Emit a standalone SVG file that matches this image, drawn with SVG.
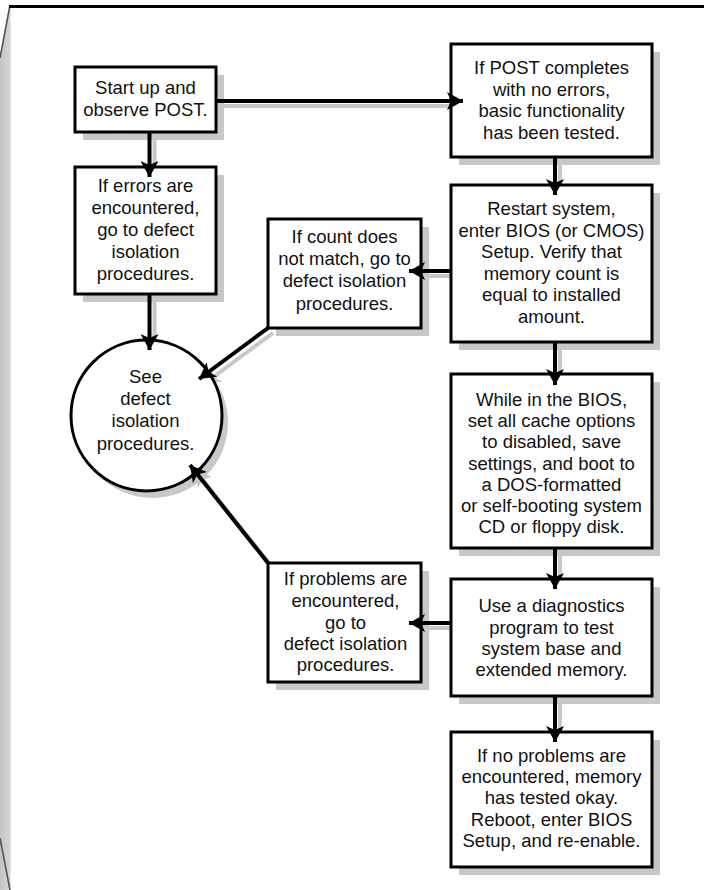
<svg xmlns="http://www.w3.org/2000/svg" width="704" height="890" viewBox="0 0 704 890">
<defs>
<linearGradient id="strip" x1="0" y1="0" x2="1" y2="0">
<stop offset="0" stop-color="#c4c4c4"/>
<stop offset="1" stop-color="#d6d6d6"/>
</linearGradient>
<marker id="arr" markerUnits="userSpaceOnUse" viewBox="0 0 16 18" markerWidth="16" markerHeight="18" refX="16" refY="9" orient="auto">
<path d="M16,9 L0,0 L4,9 L0,18 Z" fill="#000"/>
</marker>
<marker id="arrs" markerUnits="userSpaceOnUse" viewBox="0 0 16 18" markerWidth="16" markerHeight="18" refX="16" refY="9" orient="auto">
<path d="M16,9 L0,0 L4,9 L0,18 Z" fill="#c8c8c8"/>
</marker>
</defs>
<style>
.box{fill:#fff;stroke:#000;stroke-width:3}
.shd{fill:#c8c8c8;stroke:none}
.con{fill:none;stroke:#000;stroke-width:4;marker-end:url(#arr)}
.cons{fill:none;stroke:#c8c8c8;stroke-width:4;marker-end:url(#arrs)}
text{font-family:"Liberation Sans",Arial,Helvetica,sans-serif;font-size:18.5px;fill:#111;text-anchor:middle}
</style>
<rect width="704" height="890" fill="#fff"/>
<g id="frame">
<polygon points="0,58 10,5 10,890 0,890" fill="url(#strip)"/>
<line x1="10.5" y1="6" x2="10.5" y2="890" stroke="#e8e8e8" stroke-width="1"/>
<line x1="10" y1="5" x2="0" y2="58" stroke="#555" stroke-width="1.6"/>
<line x1="0" y1="838" x2="10" y2="890" stroke="#555" stroke-width="1.6"/>
<line x1="9" y1="6.5" x2="704" y2="6.5" stroke="#000" stroke-width="3"/>
</g>
<g id="connector-shadows" transform="translate(5,5)">
<path class="cons" d="M216,101 H463"/>
<path class="cons" d="M149.5,132 V177"/>
<path class="cons" d="M149.5,294 V350"/>
<path class="cons" d="M555,157 V195"/>
<path class="cons" d="M451,271 H409"/>
<path class="cons" d="M268,328 L199,379"/>
<path class="cons" d="M555,342 V385"/>
<path class="cons" d="M555,548 V589"/>
<path class="cons" d="M451,623 H409"/>
<path class="cons" d="M268,563 L190,465"/>
<path class="cons" d="M555,696 V742"/>
</g>
<g id="start">
<rect class="shd" x="83" y="75" width="141" height="65"/>
<rect class="box" x="75" y="67" width="141" height="65"/>
<text x="145.5" y="93.5">Start up and</text>
<text x="145.5" y="116">observe POST.</text>
</g>
<g id="errors">
<rect class="shd" x="83" y="175" width="141" height="127"/>
<rect class="box" x="75" y="167" width="141" height="127"/>
<text x="145.5" y="192">If errors are</text>
<text x="145.5" y="214">encountered,</text>
<text x="145.5" y="236">go to defect</text>
<text x="145.5" y="258">isolation</text>
<text x="145.5" y="280">procedures.</text>
</g>
<g id="defect">
<circle class="shd" cx="152.5" cy="422.5" r="75.5"/>
<circle class="box" cx="146.5" cy="415.5" r="75.5"/>
<text x="145.5" y="383">See</text>
<text x="145.5" y="405">defect</text>
<text x="145.5" y="427">isolation</text>
<text x="145.5" y="450">procedures.</text>
</g>
<g id="post-ok">
<rect class="shd" x="459" y="52" width="201" height="113"/>
<rect class="box" x="451" y="44" width="201" height="113"/>
<text x="551.5" y="74">If POST completes</text>
<text x="551.5" y="95.5">with no errors,</text>
<text x="551.5" y="117">basic functionality</text>
<text x="551.5" y="138.5">has been tested.</text>
</g>
<g id="restart">
<rect class="shd" x="459" y="193" width="201" height="157"/>
<rect class="box" x="451" y="185" width="201" height="157"/>
<text x="551.5" y="215">Restart system,</text>
<text x="551.5" y="236.5">enter BIOS (or CMOS)</text>
<text x="551.5" y="258">Setup. Verify that</text>
<text x="551.5" y="279.5">memory count is</text>
<text x="551.5" y="301">equal to installed</text>
<text x="551.5" y="322.5">amount.</text>
</g>
<g id="count">
<rect class="shd" x="276" y="227" width="153" height="109"/>
<rect class="box" x="268" y="219" width="153" height="109"/>
<text x="344.5" y="243">If count does</text>
<text x="344.5" y="265">not match, go to</text>
<text x="344.5" y="287">defect isolation</text>
<text x="344.5" y="309.5">procedures.</text>
</g>
<g id="cache">
<rect class="shd" x="459" y="382" width="201" height="174"/>
<rect class="box" x="451" y="374" width="201" height="174"/>
<text x="551.5" y="406">While in the BIOS,</text>
<text x="551.5" y="427.2">set all cache options</text>
<text x="551.5" y="448.4">to disabled, save</text>
<text x="551.5" y="469.6">settings, and boot to</text>
<text x="551.5" y="490.8">a DOS-formatted</text>
<text x="551.5" y="512">or self-booting system</text>
<text x="551.5" y="533.2">CD or floppy disk.</text>
</g>
<g id="diagnostics">
<rect class="shd" x="459" y="587" width="201" height="117"/>
<rect class="box" x="451" y="579" width="201" height="117"/>
<text x="551.5" y="612">Use a diagnostics</text>
<text x="551.5" y="633.5">program to test</text>
<text x="551.5" y="654.5">system base and</text>
<text x="551.5" y="676">extended memory.</text>
</g>
<g id="problems">
<rect class="shd" x="276" y="571" width="153" height="119"/>
<rect class="box" x="268" y="563" width="153" height="119"/>
<text x="345.5" y="585">If problems are</text>
<text x="345.5" y="607">encountered,</text>
<text x="345.5" y="628.5">go to</text>
<text x="345.5" y="650">defect isolation</text>
<text x="345.5" y="671">procedures.</text>
</g>
<g id="okay">
<rect class="shd" x="459" y="740" width="201" height="135"/>
<rect class="box" x="451" y="732" width="201" height="135"/>
<text x="551.5" y="762">If no problems are</text>
<text x="551.5" y="783">encountered, memory</text>
<text x="551.5" y="804">has tested okay.</text>
<text x="551.5" y="825.5">Reboot, enter BIOS</text>
<text x="551.5" y="847">Setup, and re-enable.</text>
</g>
<g id="connectors">
<path class="con" d="M216,101 H463"/>
<path class="con" d="M149.5,132 V177"/>
<path class="con" d="M149.5,294 V350"/>
<path class="con" d="M555,157 V195"/>
<path class="con" d="M451,271 H409"/>
<path class="con" d="M268,328 L199,379"/>
<path class="con" d="M555,342 V385"/>
<path class="con" d="M555,548 V589"/>
<path class="con" d="M451,623 H409"/>
<path class="con" d="M268,563 L190,465"/>
<path class="con" d="M555,696 V742"/>
</g>
</svg>
